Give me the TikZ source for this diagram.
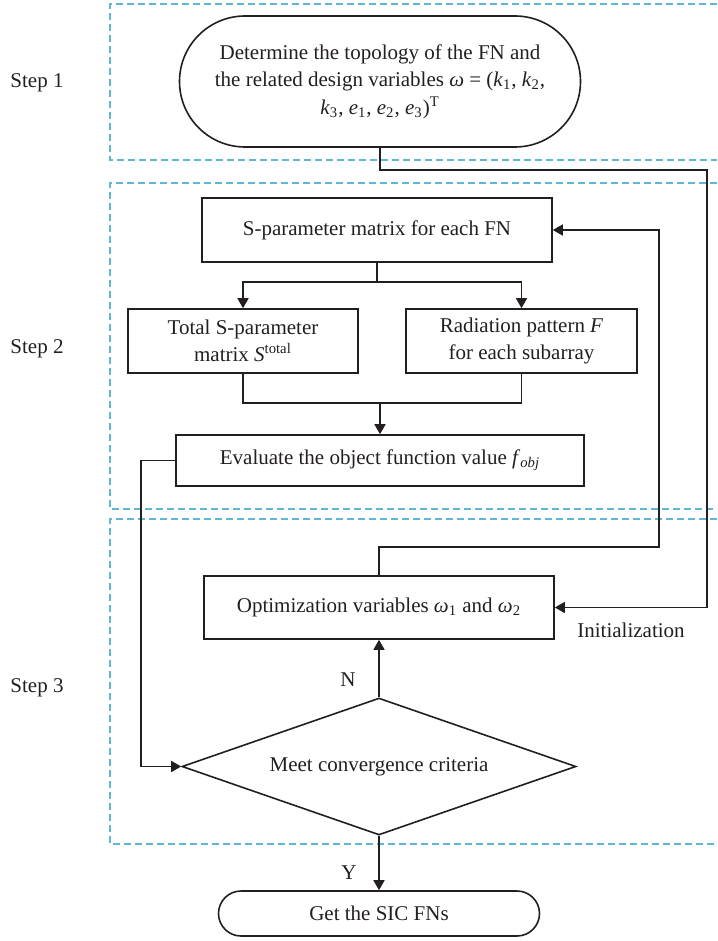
\documentclass[tikz,border=0pt]{standalone}
\usepackage{fontspec}
\setmainfont{Liberation Serif}
\usetikzlibrary{shapes.geometric, shapes.misc, arrows.meta}
\definecolor{ink}{RGB}{35,31,32}
\definecolor{stepline}{RGB}{95,183,209}
\newcommand{\vsub}[1]{\textsubscript{#1}}
\newcommand{\vit}[1]{\textit{#1}}

\begin{document}
\begin{tikzpicture}[x=0.5pt, y=-0.5pt, line width=0.8pt, color=ink,
          font=\fontsize{10.5}{13.75}\selectfont,
          arr/.style={-{Triangle[length=5pt, width=5.5pt]}},
          procbox/.style={draw, rectangle, inner sep=2pt, align=center},
          termbox/.style={draw, rounded rectangle, inner sep=2pt, align=center},
          decbox/.style={draw, diamond, aspect=2.88, inner sep=0pt},
          stepframe/.style={draw=stepline, line width=0.6pt, dash pattern=on 3.5pt off 2pt},
        ]
          \useasboundingbox (0,0) rectangle (717,941);
          % step frames
          \draw[stepframe] (717,4)   -- (110,4)   -- (110,160) -- (717,160);
          \draw[stepframe] (717,183) -- (110,183) -- (110,509) -- (717,509);
          \draw[stepframe] (717,519) -- (110,519) -- (110,844) -- (717,844);
          \node (s1) at (37,83)  {Step 1};
          \node (s2) at (37,349) {Step 2};
          \node (s3) at (37,688) {Step 3};
          % blocks
          \node[termbox, minimum width=204.5pt, minimum height=65.5pt] (topo) at (380,81.5)
            {Determine the topology of the FN and\\
             the related design variables \vit{ω} = (\vit{k}\vsub{1}, \vit{k}\vsub{2},\\
             \vit{k}\vsub{3}, \vit{e}\vsub{1}, \vit{e}\vsub{2}, \vit{e}\vsub{3})\textsuperscript{T}};
          \node[procbox, minimum width=175pt, minimum height=32pt] (spm) at (377,230)
            {S-parameter matrix for each FN};
          \node[procbox, minimum width=115pt, minimum height=32pt] (stot) at (243,341)
            {Total S-parameter\\matrix \vit{S}\textsuperscript{total}};
          \node[procbox, minimum width=115.5pt, minimum height=32pt] (rad) at (521.5,341)
            {Radiation pattern \vit{F}\\for each subarray};
          \node[procbox, minimum width=204pt, minimum height=25.5pt] (eval) at (380,460.5)
            {Evaluate the object function value \vit{f}\vsub{\vit{obj}}};
          \node[procbox, minimum width=175pt, minimum height=31.5pt] (optim) at (379,607.5)
            {Optimization variables \vit{ω}\vsub{1} and \vit{ω}\vsub{2}};
          \node[decbox, minimum width=197pt, minimum height=68.5pt] (conv) at (379,766.5)
            {Meet convergence criteria};
          \node[termbox, minimum width=164.5pt, minimum height=22.5pt] (sic) at (379,913.5)
            {Get the SIC FNs};
          % connectors
          \coordinate (split)    at (377,282);
          \coordinate (merge)    at (380,403);
          \coordinate (retL)     at (141,460.5);
          \coordinate (retR)     at (659,547);
          \coordinate (initturn) at (707,170);
          \draw (spm.south) -- (split);
          \draw[arr] (split) -| (stot.north);
          \draw[arr] (split) -| (rad.north);
          \draw (stot.south) |- (merge);
          \draw (rad.south) |- (merge);
          \draw[arr] (merge) -- (eval.north);
          \draw[arr] (eval.west) -- (retL) |- (conv.west);
          \draw[arr] (optim.north) |- (retR) |- (spm.east);
          \draw[arr] (topo.south) |- (initturn) |- (optim.east);
          \draw[arr] (conv.north) -- (optim.south);
          \draw[arr] (conv.south) -- (sic.north);
          \node (nlbl) at (348,680) {N};
          \node (ylbl) at (349,873) {Y};
          \node (initlbl) at (631,630) {Initialization};
        \end{tikzpicture}
\end{document}
